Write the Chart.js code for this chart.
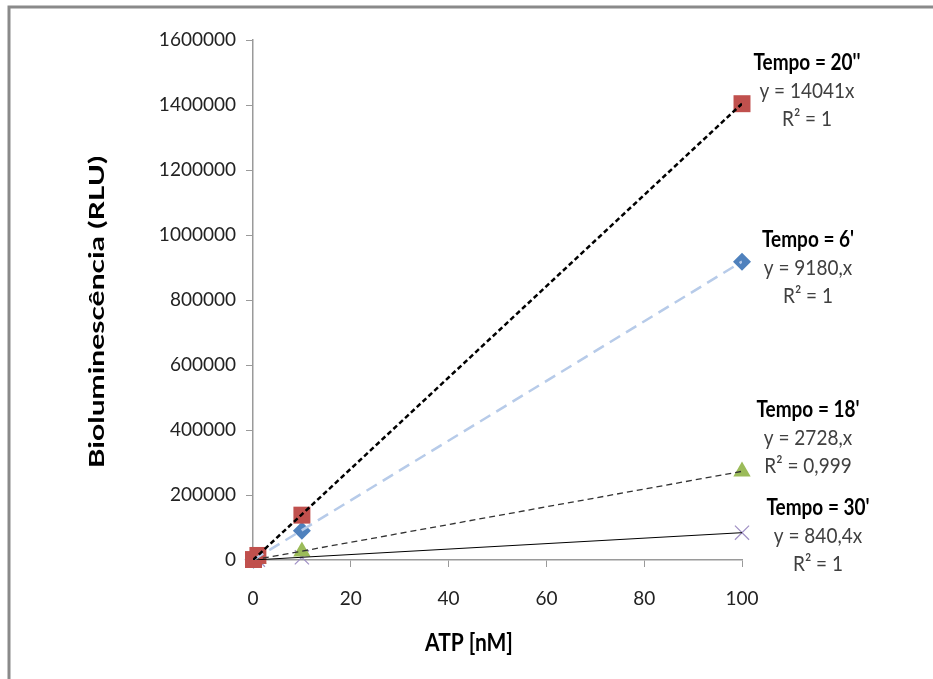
<!DOCTYPE html>
<html lang="pt">
<head>
    <meta charset="UTF-8">
    <title>Bioluminescência vs ATP</title>
    <script src="https://cdn.jsdelivr.net/npm/chart.js"></script>
    <style>
        body {
            margin: 0;
            background: #ffffff;
        }
        #chart {
            display: block;
        }
    </style>
</head>
<body>
<canvas id="chart" width="933" height="679"></canvas>

<script>
    // ATP concentrations (nM)
    const atp = [0.1, 1, 10, 100];

    const tempo20 = [1400, 14000, 138000, 1404000];
    const tempo6 = [900, 9200, 90000, 918000];
    const tempo18 = [270, 2700, 26000, 272500];
    const tempo30 = [80, 840, 8300, 84000];

    // linear fits through origin (slopes from the figure)
    const slopes = [14041, 9180, 2728, 840.4];
    const fitX = [0, 100];

    const yTicks = [0, 200000, 400000, 600000, 800000, 1000000, 1200000, 1400000, 1600000];
    const xTicks = [0, 20, 40, 60, 80, 100];

    const labels = [
        ['Tempo = 20\'\'', 'y = 14041x', 'R² = 1'],
        ['Tempo = 6\'', 'y = 9180,x', 'R² = 1'],
        ['Tempo = 18\'', 'y = 2728,x', 'R² = 0,999'],
        ['Tempo = 30\'', 'y = 840,4x', 'R² = 1']
    ];
    // label block placement relative to the last point (dx centre, dy of first line)
    const labelOffsets = [[65, -41], [66, -22], [66, -61], [76, -25]];
    const seriesData = [tempo20, tempo6, tempo18, tempo30];

    const pts = arr => atp.map((x, i) => ({x: x, y: arr[i]}));
    const fit = s => fitX.map(x => ({x: x, y: s * x}));

    const FONT = 'Lato, "Open Sans", sans-serif';

    const textPlugin = {
        id: 'texts',
        beforeDraw(chart) {
            const ctx = chart.ctx;
            ctx.save();
            ctx.fillStyle = '#ffffff';
            ctx.fillRect(0, 0, chart.width, chart.height);
            ctx.strokeStyle = '#8a8a8a';
            ctx.lineWidth = 3;
            ctx.beginPath();
            ctx.moveTo(9, chart.height);
            ctx.lineTo(9, 7);
            ctx.lineTo(chart.width, 7);
            ctx.stroke();
            ctx.restore();
        },
        afterDraw(chart) {
            const ctx = chart.ctx;
            const xs = chart.scales.x, ys = chart.scales.y;
            const area = chart.chartArea;
            ctx.save();
            ctx.textAlign = 'center';
            ctx.textBaseline = 'middle';

            // axis titles
            ctx.fillStyle = '#000';
            ctx.save();
            ctx.translate(469, 643);
            ctx.scale(1, 1.2);
            ctx.font = 'bold 21px ' + FONT;
            ctx.fillText('ATP [nM]', 0, 0);
            ctx.restore();
            ctx.save();
            ctx.translate(98, (area.top + area.bottom) / 2 + 12);
            ctx.rotate(-Math.PI / 2);
            ctx.scale(1.5, 1);
            ctx.font = 'bold 20px ' + FONT;
            ctx.fillText('Bioluminescência (RLU)', 0, 0);
            ctx.restore();

            // trendline labels
            labels.forEach((lines, i) => {
                const arr = seriesData[i];
                const px = xs.getPixelForValue(atp[atp.length - 1]) + labelOffsets[i][0];
                const py = ys.getPixelForValue(arr[arr.length - 1]) + labelOffsets[i][1];
                lines.forEach((t, j) => {
                    if (j === 0) {
                        ctx.font = 'bold 19px ' + FONT;
                        ctx.fillStyle = '#000';
                    } else {
                        ctx.font = '19px ' + FONT;
                        ctx.fillStyle = '#404040';
                    }
                    ctx.save();
                    ctx.translate(px, py + j * 28);
                    ctx.scale(1, 1.15);
                    ctx.fillText(t, 0, 0);
                    ctx.restore();
                });
            });
            ctx.restore();
        }
    };

    const ctx = document.getElementById('chart').getContext('2d');
    new Chart(ctx, {
        type: 'scatter',
        data: {
            datasets: [
                {
                    data: fit(slopes[0]), showLine: true, pointRadius: 0,
                    borderColor: '#000', borderWidth: 2.5, borderDash: [5, 3], order: 0
                },
                {
                    data: fit(slopes[1]), showLine: true, pointRadius: 0,
                    borderColor: '#b7cbe9', borderWidth: 2.5, borderDash: [12, 7], order: 0
                },
                {
                    data: fit(slopes[2]), showLine: true, pointRadius: 0,
                    borderColor: '#333', borderWidth: 1.3, borderDash: [6, 4], order: 0
                },
                {
                    data: fit(slopes[3]), showLine: true, pointRadius: 0,
                    borderColor: '#000', borderWidth: 1, order: 0
                },
                {
                    label: 'Tempo = 20\'\'', data: pts(tempo20), pointStyle: 'rect', pointRadius: 12,
                    backgroundColor: '#c0504d', borderColor: '#c0504d', borderWidth: 0, order: 1, clip: false
                },
                {
                    label: 'Tempo = 6\'', data: pts(tempo6), pointStyle: 'rectRot', pointRadius: 9,
                    backgroundColor: '#4f81bd', borderColor: '#4f81bd', borderWidth: 0, order: 1, clip: false
                },
                {
                    label: 'Tempo = 18\'', data: pts(tempo18), pointStyle: 'triangle', pointRadius: 10,
                    backgroundColor: '#9bbb59', borderColor: '#9bbb59', borderWidth: 0, order: 1, clip: false
                },
                {
                    label: 'Tempo = 30\'', data: pts(tempo30), pointStyle: 'crossRot', pointRadius: 10,
                    backgroundColor: '#8064a2', borderColor: '#9f8fc4', borderWidth: 1.2, order: 1, clip: false
                }
            ]
        },
        options: {
            responsive: false,
            animation: false,
            layout: {padding: {left: 0, top: 40, right: 191, bottom: 0}},
            plugins: {legend: {display: false}, tooltip: {enabled: false}},
            scales: {
                x: {
                    type: 'linear', min: 0, max: 100,
                    afterBuildTicks: s => { s.ticks = xTicks.map(v => ({value: v})); },
                    afterFit: s => { s.height = 119; },
                    grid: {drawOnChartArea: false, drawTicks: true, tickLength: 7, color: '#9a9a9a'},
                    border: {color: '#9a9a9a', width: 1.5},
                    ticks: {color: '#222', font: {family: FONT, size: 19}, padding: 20}
                },
                y: {
                    type: 'linear', min: 0, max: 1600000,
                    afterBuildTicks: s => { s.ticks = yTicks.map(v => ({value: v})); },
                    afterFit: s => { s.width = 253; },
                    grid: {drawOnChartArea: false, drawTicks: true, tickLength: 7, color: '#9a9a9a'},
                    border: {color: '#9a9a9a', width: 1.5},
                    ticks: {color: '#222', font: {family: FONT, size: 19}, padding: 10,
                        callback: v => String(v)}
                }
            }
        },
        plugins: [textPlugin]
    });
</script>
</body>
</html>
